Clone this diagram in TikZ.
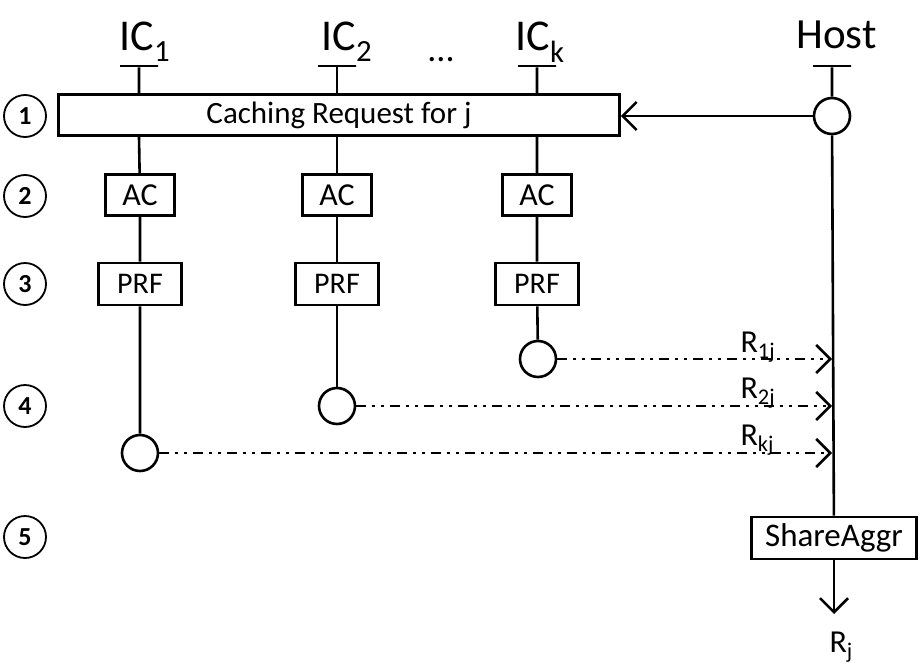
\documentclass[tikz,border=0pt]{standalone}
\usepackage{fontspec}
\setmainfont{Carlito}
\usetikzlibrary{arrows.meta}
\newcommand{\fs}[1]{\fontsize{#1}{#1}\selectfont}
\begin{document}
\begin{tikzpicture}[
  x=1pt,y=-1pt,
  line/.style={line width=2.6pt},
  tick/.style={draw,line width=2.6pt,minimum width=38pt,minimum height=0pt,inner sep=0pt},
  box/.style={draw,line width=2.6pt,fill=white,inner sep=0pt,font=\fs{31}},
  port/.style={circle,draw,line width=2.6pt,fill=white,minimum size=36pt,inner sep=0pt},
  stepnum/.style={circle,draw,line width=1.8pt,minimum size=42pt,inner sep=0pt,font=\bfseries\fs{26}},
  reply/.style={line width=2.6pt,dash pattern=on 10pt off 6pt on 3pt off 6pt on 3pt off 6pt,
    -{Straight Barb[length=14pt,width=28pt]}},
  tip/.style={-{Straight Barb[length=14pt,width=28pt]}}]
  \useasboundingbox (0,0) rectangle (921,664);
  % parties
  \node[font=\fs{44},anchor=base west] (ic1) at (116,50) {IC\textsubscript{1}};
  \node[font=\fs{44},anchor=base west] (ic2) at (318,50) {IC\textsubscript{2}};
  \node[font=\fs{44},anchor=base west] (ick) at (512,50) {IC\textsubscript{k}};
  \node[font=\fs{43},anchor=base west] (host) at (793,48) {Host};
  \node[font=\fs{36}] (dots) at (441,60) {...};
  \node[tick] (t1) at (139,66) {};
  \node[tick] (t2) at (337,66) {};
  \node[tick] (tk) at (537,66) {};
  \node[tick] (th) at (832,66) {};
  % steps
  \node[stepnum] (s1) at (25,116) {1};
  \node[stepnum] (s2) at (25,196) {2};
  \node[stepnum] (s3) at (25,284) {3};
  \node[stepnum] (s4) at (25,406) {4};
  \node[stepnum] (s5) at (25,537) {5};
  % boxes
  \node[box,minimum width=561pt,minimum height=41pt] (req) at (339,115) {Caching Request for j};
  \node[box,minimum width=69pt,minimum height=41pt,font=\fs{32}] (ac1) at (140,195) {AC};
  \node[box,minimum width=69pt,minimum height=41pt,font=\fs{32}] (ac2) at (337,195) {AC};
  \node[box,minimum width=69pt,minimum height=41pt,font=\fs{32}] (ack) at (537,195) {AC};
  \node[box,minimum width=83pt,minimum height=42pt,font=\fs{30}] (prf1) at (140,284) {PRF};
  \node[box,minimum width=83pt,minimum height=42pt,font=\fs{30}] (prf2) at (337,284) {PRF};
  \node[box,minimum width=83pt,minimum height=42pt,font=\fs{30}] (prfk) at (537,284) {PRF};
  \node[box,minimum width=165pt,minimum height=42pt,font=\fs{33}] (agg) at (834,538) {ShareAggr};
  % ports
  \node[port] (hc) at (832,116) {};
  \node[port] (o1) at (140,453) {};
  \node[port] (o2) at (337,406) {};
  \node[port] (ok) at (538,359) {};
  \coordinate (rjtip) at (834,614);
  \node[font=\fs{32},anchor=base west] (rj) at (826,652) {R\textsubscript{j}};
  % lifelines
  \draw[line] (t1) -- (t1 |- req.north) (t1 |- req.south) -- (ac1) -- (prf1) -- (o1);
  \draw[line] (t2) -- (t2 |- req.north) (t2 |- req.south) -- (ac2) -- (prf2) -- (o2);
  \draw[line] (tk) -- (tk |- req.north) (tk |- req.south) -- (ack) -- (prfk) -- (ok);
  \draw[line] (th) -- (hc) (hc) -- (agg);
  \draw[line,tip] (hc) -- (req.east |- hc);
  \draw[line,tip] (agg) -- (rjtip);
  % replies
  \draw[reply] (ok) -- (ok -| hc);
  \draw[reply] (o2) -- (o2 -| hc);
  \draw[reply] (o1) -- (o1 -| hc);
  \node[font=\fs{32},anchor=base west] (r1) at (737,352) {R\textsubscript{1j}};
  \node[font=\fs{32},anchor=base west] (r2) at (737,398) {R\textsubscript{2j}};
  \node[font=\fs{32},anchor=base west] (r3) at (737,445) {R\textsubscript{kj}};
\end{tikzpicture}
\end{document}
